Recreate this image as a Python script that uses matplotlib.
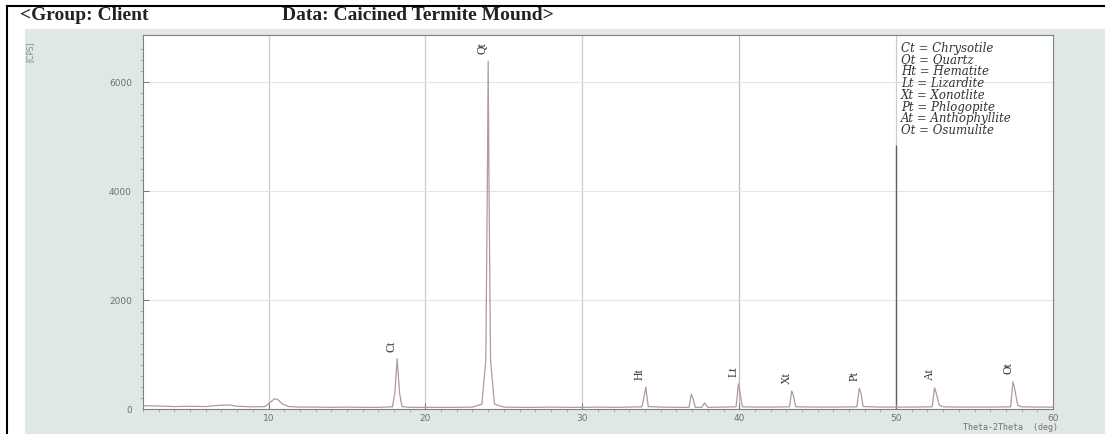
import matplotlib
matplotlib.use("Agg")
import matplotlib.pyplot as plt
from matplotlib.lines import Line2D

# ---- data ----
two_theta = [2.0, 3.0, 4.0, 5.0, 6.0, 6.5, 7.0, 7.5, 8.0, 9.0, 9.8, 10.1, 10.4, 10.6, 10.9, 11.3,
             12.0, 13.0, 14.0, 15.0, 16.0, 17.0, 17.9, 18.05, 18.2, 18.35, 18.5, 19.0,
             20.0, 21.0, 22.0, 23.0, 23.6, 23.85, 23.95, 24.0, 24.05, 24.15, 24.4, 25.0,
             26.0, 27.0, 28.0, 29.0, 30.0, 31.0, 32.0, 33.0, 33.8, 33.95, 34.05, 34.2,
             35.0, 36.0, 36.8, 36.95, 37.05, 37.2, 37.6, 37.8, 38.0, 39.0, 39.8, 39.95,
             40.05, 40.2, 41.0, 42.0, 43.2, 43.35, 43.45, 43.6, 45.0, 46.0, 47.5, 47.65,
             47.75, 47.9, 49.0, 50.0, 51.0, 52.3, 52.45, 52.55, 52.75, 53.0, 54.0, 55.0,
             56.0, 57.3, 57.45, 57.55, 57.75, 58.0, 59.0, 60.0]
counts = [60, 55, 45, 50, 45, 60, 70, 75, 50, 40, 45, 120, 190, 170, 90, 45,
          35, 35, 30, 35, 30, 30, 40, 300, 920, 300, 45, 30,
          30, 30, 30, 35, 90, 900, 4200, 6380, 4200, 900, 90, 35,
          30, 30, 35, 30, 30, 35, 30, 35, 40, 250, 400, 45,
          35, 30, 30, 270, 200, 30, 30, 110, 30, 35, 40, 460,
          300, 40, 35, 35, 40, 330, 250, 40, 35, 35, 40, 380,
          300, 45, 35, 35, 35, 40, 390, 300, 70, 40, 35, 35,
          35, 40, 500, 380, 70, 40, 35, 35]

peak_labels = ["Ct", "Qt", "Ht", "Lt", "Xt", "Pt", "At", "Ot"]
peak_pos = [18.2, 24.0, 34.0, 40.0, 43.4, 47.7, 52.5, 57.5]
peak_height = [920, 6380, 400, 460, 330, 380, 390, 500]

legend_lines = ["Ct = Chrysotile", "Qt = Quartz", "Ht = Hematite", "Lt = Lizardite",
                "Xt = Xonotlite", "Pt = Phlogopite", "At = Anthophyllite", "Ot = Osumulite"]

x_ticks = [10, 20, 30, 40, 50, 60]
y_ticks = [0, 2000, 4000, 6000]

W, H = 1105, 435
fig = plt.figure(figsize=(W / 100, H / 100), dpi=100)
fig.patch.set_facecolor("white")

# scanned-paper background
bg = fig.add_axes([25 / W, 0, 1 - 25 / W, 1 - 30 / H], zorder=-5)
bg.set_facecolor("#dfe8e4")
bg.set_xticks([])
bg.set_yticks([])
for s in bg.spines.values():
    s.set_visible(False)

# black scan border (top and left)
fig.add_artist(Line2D([7 / W, 1], [1 - 7 / H, 1 - 7 / H], transform=fig.transFigure, color="black", lw=1.5))
fig.add_artist(Line2D([7 / W, 7 / W], [0, 1 - 7 / H], transform=fig.transFigure, color="black", lw=1.5))

ax = fig.add_axes([143 / W, 1 - 410 / H, (1053 - 143) / W, (410 - 36) / H], zorder=1)
ax.set_facecolor("white")
ax.set_xlim(2, 60)
ax.set_ylim(0, 6860)

ax.set_xticks(x_ticks)
ax.set_yticks(y_ticks)
ax.set_xticks(range(2, 61, 1), minor=True)
ax.set_yticks(range(0, 6800, 200), minor=True)
ax.tick_params(axis="both", which="major", labelsize=6.5, labelcolor="#707070", color="#777777",
               length=4, width=0.7)
ax.tick_params(axis="both", which="minor", color="#999999", length=2, width=0.5)
ax.tick_params(axis="y", direction="in", pad=8)
ax.tick_params(axis="x", direction="in", pad=3)
for s in ax.spines.values():
    s.set_color("#808080")
    s.set_linewidth(0.8)

for v in x_ticks[:-1]:
    ax.axvline(v, color="#bdbdbd" if v == 40 else "#cccccc", lw=0.9, zorder=1)
for v in y_ticks[1:]:
    ax.axhline(v, color="#e4e4e4", lw=0.8, zorder=1)
ax.vlines(50, 0, 4850, color="#606060", lw=1.0, zorder=1)

ax.plot(two_theta, counts, color="#b09a9a", lw=0.9, zorder=3)

for lab, px, ph in zip(peak_labels, peak_pos, peak_height):
    ax.annotate(lab, (px, ph), xytext=(-4, 6), textcoords="offset points", rotation=90,
                ha="center", va="bottom", fontsize=8.5, family="Liberation Serif",
                color="#333333", zorder=4)

ax.text(0.833, 0.985, "\n".join(legend_lines), transform=ax.transAxes, ha="left", va="top",
        fontsize=8.5, family="DejaVu Serif", style="italic", color="#333333",
        linespacing=0.88)

fig.text(20 / W, 1 - 15 / H, "<Group: Client", fontsize=14, family="Liberation Serif",
         weight="bold", color="#222222", va="center", ha="left")
fig.text(282 / W, 1 - 15 / H, "Data: Caicined Termite Mound>", fontsize=14,
         family="Liberation Serif", weight="bold", color="#222222", va="center", ha="left")
fig.text(30 / W, 1 - 52 / H, "[CPS]", rotation=90, fontsize=5.5, color="#888888",
         va="center", ha="center")
fig.text(1058 / W, 1 - 428 / H, "Theta-2Theta  (deg)", fontsize=6, color="#707070",
         family="DejaVu Sans Mono", va="center", ha="right")

fig.savefig("out.png", dpi=100)
